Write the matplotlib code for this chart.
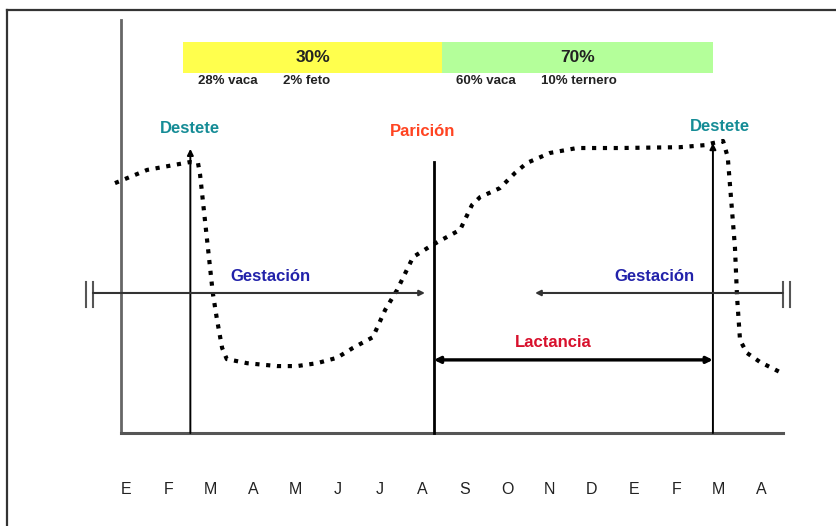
import matplotlib.pyplot as plt
from matplotlib.lines import Line2D

plt.rcParams['font.family'] = ['Liberation Sans', 'DejaVu Sans']

# Months along the bottom (two-year span, E = enero)
months = ["E", "F", "M", "A", "M", "J", "J", "A", "S", "O", "N", "D", "E", "F", "M", "A"]

# Body condition curve (x in months, y in relative units 0-100)
curve_x = [-0.26, 0.50, 1.51, 1.70, 1.75, 1.91, 2.05, 2.15, 2.27, 2.38, 2.86, 3.57,
           4.04, 4.51, 4.98, 5.36, 5.83, 6.12, 6.40, 6.78, 7.23, 7.89, 8.17, 8.36,
           8.83, 9.19, 9.47, 10.01, 10.65, 11.66, 13.08, 13.67, 13.86, 14.10, 14.21,
           14.31, 14.38, 14.43, 14.50, 14.66, 14.97, 15.49]
curve_y = [60.5, 63.7, 65.6, 65.4, 62.5, 47.2, 33.9, 27.4, 20.6, 17.9, 16.9, 16.2,
           16.2, 16.9, 18.2, 20.6, 23.2, 29.8, 34.6, 42.6, 45.5, 49.2, 55.2, 57.1,
           59.3, 63.0, 65.4, 67.8, 69.0, 69.0, 69.2, 69.7, 70.2, 70.7, 66.8,
           54.0, 45.0, 32.9, 22.5, 19.4, 17.2, 14.5]

# Events (month position)
destete_1 = 1.52
paricion = 7.27
destete_2 = 13.86

# Share of requirements
share_labels = ["30%", "70%"]
share_detail = [["28% vaca", "2% feto"], ["60% vaca", "10% ternero"]]
share_x = [1.35, 7.46, 13.86]
share_colors = ["#ffff4d", "#b4ff9a"]

fig = plt.figure(figsize=(8.37, 5.26), dpi=100)
ax = fig.add_axes([0, 0, 1, 1])
ax.set_xlim(-2.975, 16.79)
ax.set_ylim(-22.52, 104.84)
ax.axis('off')

# frame (top and left edges)
fig.add_artist(Line2D([0.0084, 1.0], [0.981, 0.981], color='#333333', lw=1.6))
fig.add_artist(Line2D([0.0084, 0.0084], [0.0, 0.981], color='#333333', lw=1.6))

# axes
ax.plot([-0.118, -0.118], [0, 100], color='#666666', lw=2)
ax.plot([-0.118, 15.51], [0, 0], color='#555555', lw=2.2)

# coloured share boxes
for i in range(2):
    ax.fill_between([share_x[i], share_x[i + 1]], 87.2, 94.7, color=share_colors[i], lw=0)
    ax.text((share_x[i] + share_x[i + 1]) / 2, 91.0, share_labels[i], ha='center',
            va='center', fontsize=12.5, fontweight='bold', color='#222222')
ax.text(1.70, 85.3, share_detail[0][0], fontsize=9.5, fontweight='bold', va='center', color='#222222')
ax.text(3.70, 85.3, share_detail[0][1], fontsize=9.5, fontweight='bold', va='center', color='#222222')
ax.text(7.79, 85.3, share_detail[1][0], fontsize=9.5, fontweight='bold', va='center', color='#222222')
ax.text(9.80, 85.3, share_detail[1][1], fontsize=9.5, fontweight='bold', va='center', color='#222222')

# event lines
arrow = dict(arrowstyle='-|>', color='black', lw=1.4, mutation_scale=9, shrinkA=0, shrinkB=0)
ax.annotate('', xy=(destete_1, 68.8), xytext=(destete_1, 0), arrowprops=arrow)
ax.annotate('', xy=(destete_2, 70.2), xytext=(destete_2, 0), arrowprops=arrow)
ax.plot([paricion, paricion], [0, 65.6], color='black', lw=2)

ax.text(destete_1, 73.8, "Destete", ha='center', va='center', fontsize=12,
        fontweight='bold', color='#158c96')
ax.text(destete_2 + 0.17, 74.1, "Destete", ha='center', va='center', fontsize=12,
        fontweight='bold', color='#158c96')
ax.text(paricion - 0.26, 72.9, "Parición", ha='center', va='center', fontsize=12,
        fontweight='bold', color='#ff4422')

# gestation arrows
ax.annotate('', xy=(7.06, 33.9), xytext=(-0.78, 33.9), arrowprops=dict(
    arrowstyle='-|>', color='#333333', lw=1.5, mutation_scale=8, shrinkA=0, shrinkB=0))
ax.annotate('', xy=(9.66, 33.9), xytext=(15.51, 33.9), arrowprops=dict(
    arrowstyle='-|>', color='#333333', lw=1.5, mutation_scale=8, shrinkA=0, shrinkB=0))
for bx in [-0.94, -0.78, 15.51, 15.68]:
    ax.plot([bx, bx], [30.5, 36.6], color='#555555', lw=1.5)
ax.text(3.40, 37.8, "Gestación", ha='center', va='center', fontsize=12,
        fontweight='bold', color='#2222aa')
ax.text(12.49, 37.8, "Gestación", ha='center', va='center', fontsize=12,
        fontweight='bold', color='#2222aa')

# lactation
ax.annotate('', xy=(destete_2, 17.7), xytext=(paricion, 17.7), arrowprops=dict(
    arrowstyle='<|-|>', color='black', lw=2.4, mutation_scale=9, shrinkA=0, shrinkB=0))
ax.text(10.08, 21.8, "Lactancia", ha='center', va='center', fontsize=12,
        fontweight='bold', color='#d8102c')

# body condition curve
ax.plot(curve_x, curve_y, color='black', lw=3, linestyle=(0, (1, 1.6)))

# month labels
for i, m in enumerate(months):
    ax.text(i, -13.8, m, ha='center', va='center', fontsize=11.5, color='#222222')

plt.savefig('out.png', dpi=100)
